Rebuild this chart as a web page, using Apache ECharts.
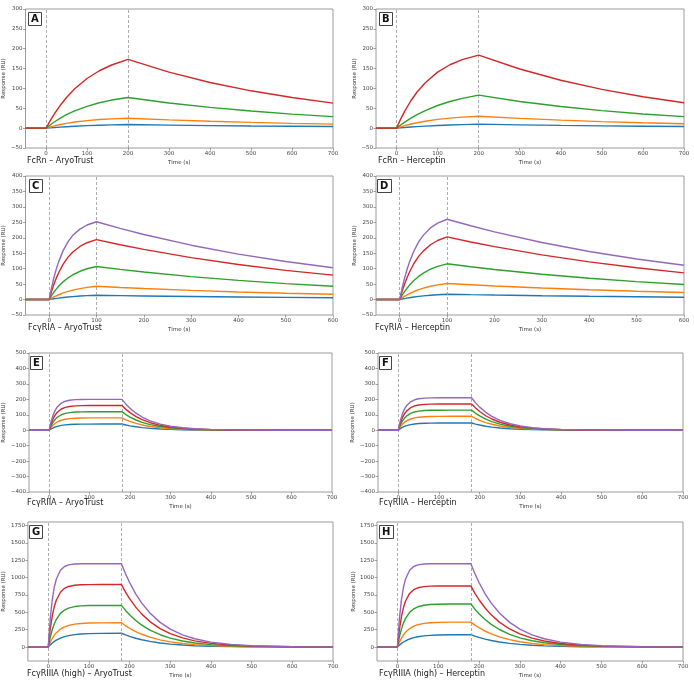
<!DOCTYPE html>
<html>
<head>
<meta charset="utf-8">
<script src="https://cdn.jsdelivr.net/npm/echarts@6/dist/echarts.min.js"></script>
<style>
  html, body { margin: 0; padding: 0; background: #fff; }
  #main { width: 694px; height: 687px; }
</style>
</head>
<body>
<div id="main"></div>
<script>
// time points (s)
var tFcRn = [-50, 0, 10, 20, 35, 50, 70, 100, 130, 160, 200, 300, 400, 500, 600, 700];
var tFcgRI = [-50, 0, 5, 10, 15, 20, 30, 40, 50, 65, 80, 100, 150, 200, 300, 400, 500, 600];
var tFcgRII = [-50, 0, 5, 10, 15, 20, 30, 40, 50, 65, 80, 100, 130, 180, 190, 200, 215, 230, 250, 275, 300, 330, 360, 400, 450, 500, 600, 700];

// A: FcRn - AryoTrust
var aBlue = [0, 0, 0.8, 1.6, 2.6, 3.6, 4.8, 6.3, 7.4, 8.2, 9, 7.5, 6.3, 5.3, 4.6, 4];
var aOrange = [0, 0, 3, 5.7, 9.2, 12.1, 15.4, 19, 21.6, 23.4, 25, 20.8, 17.3, 14.4, 12, 10];
var aGreen = [0, 0, 8, 15.4, 25.2, 33.8, 43.5, 55, 64, 70.7, 77, 63.4, 52.2, 43, 35.4, 29];
var aRed = [0, 0, 18.5, 35.4, 57.8, 77, 99, 125, 144.5, 159, 173, 141, 115, 94, 77, 63];

// B: FcRn - Herceptin
var bBlue = [0, 0, 0.9, 1.7, 2.9, 3.9, 5.1, 6.8, 8, 8.9, 10, 8.3, 6.9, 5.8, 4.8, 4];
var bOrange = [0, 0, 3.3, 6.3, 10.3, 13.7, 17.5, 22, 25.3, 27.7, 30, 24.6, 20.1, 16.5, 13.5, 11];
var bGreen = [0, 0, 7.9, 15.2, 25.1, 34.1, 44.3, 57, 67, 74.9, 83, 67.2, 54.4, 44, 35.7, 29];
var bRed = [0, 0, 22.7, 42.8, 69, 91, 114.5, 141, 159.6, 172.6, 184, 149, 120.6, 97.6, 79, 64];

// C: FcgRIA - AryoTrust
var cBlue = [0, 0, 1.3, 2.6, 3.7, 4.7, 6.7, 8.2, 9.6, 11.3, 12.6, 14, 12.8, 11.7, 9.8, 8.2, 7, 6];
var cOrange = [0, 0, 4.4, 8.5, 12.2, 15.6, 21.5, 26.4, 30.5, 35.5, 39.3, 43, 39.2, 35.7, 29.6, 24.6, 20.4, 17];
var cGreen = [0, 0, 12.5, 23.8, 33.8, 42.9, 58.1, 70.4, 80.3, 91.6, 99.7, 107, 97.7, 89.2, 74.4, 62, 51.7, 43];
var cRed = [0, 0, 26.2, 49.3, 69.3, 86.7, 115.4, 137.3, 154, 172, 184, 194, 177.4, 162.3, 135.6, 113.3, 94.6, 79];
var cPurple = [0, 0, 38, 70.5, 98.4, 122, 160, 187.5, 208, 228, 241.4, 252, 230.4, 210.7, 176, 147, 123, 103];

// D: FcgRIA - Herceptin
var dBlue = [0, 0, 1.7, 3.2, 4.6, 5.8, 8.2, 10.2, 11.9, 14, 15.6, 17.3, 15.9, 14.6, 12.4, 10.5, 9, 7.6];
var dOrange = [0, 0, 5.4, 10.3, 14.8, 18.8, 26, 32, 36.9, 43, 47.5, 52, 47.9, 44, 37.3, 31.6, 26.8, 22.7];
var dGreen = [0, 0, 13.2, 24.9, 35.6, 45.2, 61.6, 74.9, 85.7, 98.3, 107.4, 115.7, 106, 97.3, 81.8, 68.9, 57.9, 48.6];
var dRed = [0, 0, 26, 48.9, 69.2, 86.9, 116.7, 139.7, 157.6, 177.5, 191.2, 203, 186.5, 171.3, 144.7, 122, 103, 86.5];
var dPurple = [0, 0, 36.3, 67.6, 95, 118.8, 157.3, 186.7, 208.6, 232, 247.6, 260, 239, 219, 184.6, 155.5, 131.4, 111];

// E: FcgRIIA - AryoTrust
var eBlue = [0, 0, 8.8, 15.7, 21.1, 25.3, 31.1, 34.6, 36.7, 38.4, 39.3, 39.7, 40, 40, 33.7, 28.5, 22.1, 17.1, 12.2, 8, 5.2, 3.1, 1.9, 1, 0.4, 0.2, 0, 0];
var eOrange = [0, 0, 19.2, 33.8, 45, 53.4, 64.6, 71.1, 74.9, 77.8, 79, 79.7, 80, 80, 67.5, 57, 44.1, 34.2, 24.3, 15.9, 10.4, 6.2, 3.8, 1.9, 0.8, 0.4, 0.1, 0];
var eGreen = [0, 0, 31.1, 54.1, 71.2, 83.9, 100.2, 109.1, 114, 117.6, 119, 119.7, 120, 120, 101.2, 85.4, 66.2, 51.3, 36.5, 23.9, 15.6, 9.4, 5.6, 2.9, 1.2, 0.5, 0.1, 0];
var eRed = [0, 0, 44.4, 76.5, 99.7, 116.4, 137.3, 148.2, 153.8, 157.6, 159.1, 160, 160, 160, 135, 113.9, 88.2, 68.4, 48.6, 31.8, 20.8, 12.5, 7.5, 3.8, 1.6, 0.7, 0.2, 0];
var ePurple = [0, 0, 59, 100.7, 130, 150.7, 175.5, 187.8, 194, 197.9, 199.3, 200, 200, 200, 168.7, 142.4, 110.3, 85.5, 60.8, 39.8, 26, 15.6, 9.4, 4.8, 2, 0.9, 0.2, 0];

// F: FcgRIIA - Herceptin
var fBlue = [0, 0, 10.3, 18.4, 24.8, 29.7, 36.5, 40.7, 43.1, 45.1, 46.2, 46.6, 47, 47, 39.6, 33.5, 26, 20.1, 14.3, 9.4, 6.1, 3.6, 2.2, 1.2, 0.5, 0.2, 0, 0];
var fOrange = [0, 0, 21.6, 38, 50.6, 60.1, 72.7, 80, 84.3, 87.5, 88.9, 89.7, 90, 90, 75.9, 64.1, 49.6, 38.5, 27.3, 17.9, 11.7, 7, 4.3, 2.1, 0.9, 0.5, 0.1, 0];
var fGreen = [0, 0, 33.7, 58.6, 77.1, 90.9, 108.6, 118.2, 123.5, 127.4, 128.9, 129.7, 130, 130, 109.6, 92.5, 71.7, 55.6, 39.5, 25.9, 16.9, 10.2, 6.1, 3.1, 1.3, 0.5, 0.1, 0];
var fRed = [0, 0, 47.2, 81.3, 105.9, 123.7, 145.9, 157.5, 163.4, 167.5, 169, 170, 170, 170, 143.4, 121, 93.7, 72.7, 51.6, 33.8, 22.1, 13.3, 8, 4, 1.7, 0.7, 0.2, 0];
var fPurple = [0, 0, 62, 105.7, 136.5, 158.2, 184.3, 197.2, 203.7, 207.8, 209.3, 210, 210, 210, 177.1, 149.5, 115.8, 89.8, 63.8, 41.8, 27.3, 16.4, 9.9, 5, 2.1, 0.9, 0.2, 0];

// G: FcgRIIIA (high) - AryoTrust
var gBlue = [0, 0, 32.1, 59.1, 81.7, 100.7, 130, 150.7, 165.2, 179.4, 187.8, 194, 197.9, 199.6, 176, 154.8, 127.8, 105.5, 81.7, 59.3, 43, 29.3, 20, 12, 6.3, 3.3, 0.9, 0.3];
var gOrange = [0, 0, 70.5, 126.8, 171.8, 207.7, 259.3, 292.1, 313.1, 331.2, 340.4, 346.1, 349, 350, 307.9, 271, 223.6, 184.5, 142.9, 103.7, 75.3, 51.3, 34.9, 20.9, 11.1, 5.8, 1.6, 0.4];
var gGreen = [0, 0, 144.2, 253.9, 337.1, 400.3, 484.8, 533.5, 561.7, 583.2, 592.6, 597.5, 599.5, 600, 527.9, 464.5, 383.4, 316.4, 245, 177.9, 129.2, 88, 59.9, 35.9, 19, 10, 2.8, 0.8];
var gRed = [0, 0, 265.8, 453.1, 585.1, 678.1, 789.8, 845.3, 872.8, 890.5, 896.7, 899.2, 900, 900, 791.9, 696.8, 575, 474.5, 367.4, 266.8, 193.7, 132, 89.9, 53.9, 28.4, 15, 4.1, 1.1];
var gPurple = [0, 0, 415.5, 687.1, 864.7, 980.8, 1106.3, 1160, 1182.9, 1195.2, 1198.7, 1199.8, 1200, 1200, 1055.8, 929, 766.7, 632.7, 489.9, 355.7, 258.3, 176, 119.8, 71.8, 37.9, 20, 5.5, 1.5];

// H: FcgRIIIA (high) - Herceptin
var hBlue = [0, 0, 28.9, 53.2, 73.5, 90.6, 117, 135.6, 148.7, 161.5, 169.1, 174.6, 178.1, 179.7, 158.4, 139.3, 115, 95, 73.5, 53.4, 38.7, 26.4, 18, 10.8, 5.7, 3, 0.8, 0.3];
var hOrange = [0, 0, 72.5, 130.5, 176.7, 213.6, 266.7, 300.5, 322.1, 340.7, 350.2, 356, 359, 360, 316.7, 278.8, 230, 189.8, 147, 106.7, 77.5, 52.8, 35.9, 21.5, 11.4, 6, 1.6, 0.4];
var hGreen = [0, 0, 149, 262.3, 348.3, 413.6, 501, 551.3, 580.4, 602.6, 612.4, 617.5, 619.5, 620, 545.5, 480, 396.2, 326.9, 253.2, 183.8, 133.5, 90.9, 61.9, 37.1, 19.6, 10.3, 2.9, 0.8];
var hRed = [0, 0, 259.9, 443, 572.1, 663, 772.2, 826.5, 853.4, 870.7, 876.7, 879.2, 880, 880, 774.3, 681.3, 562.2, 464, 359.2, 260.9, 189.4, 129.1, 87.9, 52.7, 27.8, 14.7, 4, 1.1];
var hPurple = [0, 0, 415.5, 687.1, 864.7, 980.8, 1106.3, 1160, 1182.9, 1195.2, 1198.7, 1199.8, 1200, 1200, 1055.8, 929, 766.7, 632.7, 489.9, 355.7, 258.3, 176, 119.8, 71.8, 37.9, 20, 5.5, 1.5];

var colors = ['#1f77b4', '#ff7f0e', '#2ca02c', '#d62728', '#9467bd'];
var xTicks700 = [0, 100, 200, 300, 400, 500, 600, 700];
var xTicks600 = [0, 100, 200, 300, 400, 500, 600];
var yTicksHigh = [0, 250, 500, 750, 1000, 1250, 1500, 1750];

var panels = [
    { letter: 'A', title: 'FcRn – AryoTrust', t: tFcRn, lines: [aBlue, aOrange, aGreen, aRed], marks: [0, 200],
      grid: [25, 9, 308, 139], xMax: 700, xTicks: xTicks700, y: [-50, 300, 50], tPos: [27, 157], lPos: [28, 12], yGap: 18 },
    { letter: 'B', title: 'FcRn – Herceptin', t: tFcRn, lines: [bBlue, bOrange, bGreen, bRed], marks: [0, 200],
      grid: [376, 9, 308, 139], xMax: 700, xTicks: xTicks700, y: [-50, 300, 50], tPos: [378, 157], lPos: [379, 12], yGap: 18 },
    { letter: 'C', title: 'FcγRIA – AryoTrust', t: tFcgRI, lines: [cBlue, cOrange, cGreen, cRed, cPurple], marks: [0, 100],
      grid: [25, 176, 308, 139], xMax: 600, xTicks: xTicks600, y: [-50, 400, 50], tPos: [28, 324], lPos: [29, 179], yGap: 18 },
    { letter: 'D', title: 'FcγRIA – Herceptin', t: tFcgRI, lines: [dBlue, dOrange, dGreen, dRed, dPurple], marks: [0, 100],
      grid: [376, 176, 308, 139], xMax: 600, xTicks: xTicks600, y: [-50, 400, 50], tPos: [375, 324], lPos: [377, 179], yGap: 18 },
    { letter: 'E', title: 'FcγRIIA – AryoTrust', t: tFcgRII, lines: [eBlue, eOrange, eGreen, eRed, ePurple], marks: [0, 180],
      grid: [27, 353, 305, 139], xMax: 700, xTicks: xTicks700, y: [-400, 500, 100], tPos: [27, 499], lPos: [30, 356], yGap: 22 },
    { letter: 'F', title: 'FcγRIIA – Herceptin', t: tFcgRII, lines: [fBlue, fOrange, fGreen, fRed, fPurple], marks: [0, 180],
      grid: [378, 353, 305, 139], xMax: 700, xTicks: xTicks700, y: [-400, 500, 100], tPos: [379, 499], lPos: [379, 356], yGap: 22 },
    { letter: 'G', title: 'FcγRIIIA (high) – AryoTrust', t: tFcgRII, lines: [gBlue, gOrange, gGreen, gRed, gPurple], marks: [0, 180],
      grid: [26, 522, 307, 139], xMax: 700, xTicks: xTicks700, y: [-200, 1800, null], tPos: [27, 670], lPos: [29, 525], yGap: 20 },
    { letter: 'H', title: 'FcγRIIIA (high) – Herceptin', t: tFcgRII, lines: [hBlue, hOrange, hGreen, hRed, hPurple], marks: [0, 180],
      grid: [377, 522, 306, 139], xMax: 700, xTicks: xTicks700, y: [-200, 1800, null], tPos: [379, 670], lPos: [379, 525], yGap: 20 }
];

function pairs(t, v) {
    return t.map(function (x, i) { return [x, v[i]]; });
}
function minus(v) {
    return String(v).replace('-', '\u2212');
}

var font = 'DejaVu Sans';
var grids = [], xAxes = [], yAxes = [], series = [], titles = [];

panels.forEach(function (p, i) {
    grids.push({
        left: p.grid[0], top: p.grid[1], width: p.grid[2], height: p.grid[3],
        show: true, borderColor: '#9a9a9a', borderWidth: 1
    });
    xAxes.push({
        type: 'value', gridIndex: i, min: -50, max: p.xMax,
        name: 'Time (s)', nameLocation: 'middle', nameGap: 12,
        nameTextStyle: { fontSize: 5.5, color: '#333', fontFamily: font },
        axisLine: { show: false, onZero: false },
        axisTick: { show: true, customValues: p.xTicks, length: 2.5, lineStyle: { color: '#666', width: 0.6 } },
        axisLabel: { customValues: p.xTicks, fontSize: 5.5, color: '#444', margin: 3, fontFamily: font, formatter: minus },
        splitLine: { show: false }
    });
    var y = {
        type: 'value', gridIndex: i, min: p.y[0], max: p.y[1],
        name: 'Response (RU)', nameLocation: 'middle', nameGap: p.yGap,
        nameTextStyle: { fontSize: 5.5, color: '#333', fontFamily: font },
        axisLine: { show: false, onZero: false },
        axisTick: { show: true, length: 2.5, lineStyle: { color: '#666', width: 0.6 } },
        axisLabel: { fontSize: 5.5, color: '#444', margin: 3, fontFamily: font, formatter: minus },
        splitLine: { show: false }
    };
    if (p.y[2]) {
        y.interval = p.y[2];
    } else {
        y.axisTick.customValues = yTicksHigh;
        y.axisLabel.customValues = yTicksHigh;
    }
    yAxes.push(y);

    p.lines.forEach(function (v, k) {
        var s = {
            type: 'line', xAxisIndex: i, yAxisIndex: i,
            data: pairs(p.t, v),
            symbol: 'none', showSymbol: false,
            lineStyle: { width: 1.4, color: colors[k] },
            itemStyle: { color: colors[k] },
            z: 3 + k
        };
        if (k === 0) {
            s.markLine = {
                silent: true, symbol: 'none', label: { show: false },
                lineStyle: { color: '#999', type: [3, 2], width: 0.8 },
                data: p.marks.map(function (m) { return { xAxis: m }; })
            };
        }
        series.push(s);
    });

    titles.push({
        text: p.title, left: p.tPos[0], top: p.tPos[1], padding: 0,
        textStyle: { fontSize: 8, fontWeight: 'normal', color: '#222', fontFamily: font }
    });
    titles.push({
        text: p.letter, left: p.lPos[0], top: p.lPos[1], padding: [2, 3, 2, 3],
        backgroundColor: '#fff', borderColor: '#444', borderWidth: 1,
        textStyle: { fontSize: 10, fontWeight: 'bold', color: '#111', fontFamily: font }
    });
});

var chartDom = document.getElementById('main');
var myChart = echarts.init(chartDom);
var option = {
    backgroundColor: '#fff',
    animation: false,
    title: titles,
    grid: grids,
    xAxis: xAxes,
    yAxis: yAxes,
    series: series
};
myChart.setOption(option);
</script>
</body>
</html>
